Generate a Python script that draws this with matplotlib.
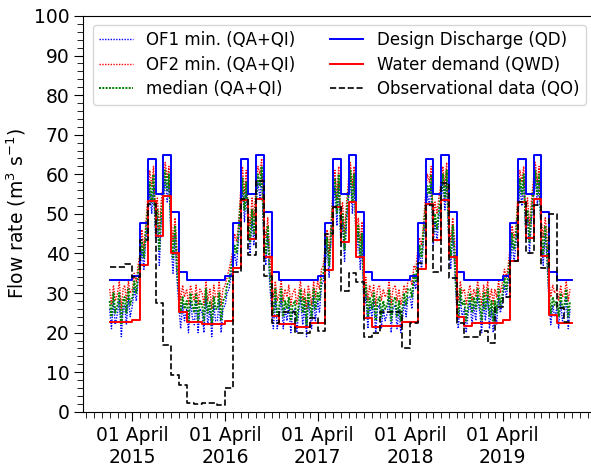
import datetime as dt

import matplotlib
matplotlib.use('Agg')
import matplotlib.pyplot as plt
import matplotlib.dates as mdates
from matplotlib.ticker import MultipleLocator, AutoMinorLocator

# monthly series, Jan 2015 .. Dec 2019 (one value per month)
qd = [33.3, 33.3, 33.3, 34.3, 47.7, 63.9, 55.0, 64.9, 50.6, 35.4, 33.3, 33.3,
      33.3, 33.3, 33.3, 34.3, 47.7, 63.9, 55.0, 64.9, 50.6, 35.4, 33.3, 33.3,
      33.3, 33.3, 33.3, 34.3, 47.7, 63.9, 55.0, 64.9, 50.6, 35.4, 33.3, 33.3,
      33.3, 33.3, 33.3, 34.3, 47.7, 63.9, 55.0, 64.9, 50.6, 35.4, 33.3, 33.3,
      33.3, 33.3, 33.3, 34.3, 47.7, 63.9, 55.0, 64.9, 50.6, 35.4, 33.3, 33.3]
qwd = [22.8, 22.8, 22.8, 23.3, 37.1, 53.3, 44.3, 54.4, 40.1, 25.3, 22.8, 22.8,
       22.2, 22.2, 22.2, 23.0, 36.4, 53.5, 43.7, 53.7, 39.2, 24.2, 22.2, 22.2,
       21.4, 21.4, 22.4, 22.4, 35.7, 51.8, 43.0, 53.1, 39.2, 23.7, 21.5, 21.7,
       21.7, 21.7, 22.8, 22.8, 36.0, 52.4, 43.4, 53.5, 39.2, 24.0, 21.7, 22.4,
       22.4, 22.4, 22.4, 23.2, 38.0, 53.1, 43.8, 53.7, 39.4, 24.5, 22.4, 22.4]
qo = [36.5, 36.5, 37.4, 34.0, 43.5, 52.5, 27.5, 17.0, 9.3, 6.8, 2.2, 2.0,
      2.2, 2.2, 1.8, 6.0, 35.4, 53.7, 39.5, 58.4, 34.2, 22.4, 25.3, 25.3,
      19.9, 19.9, 23.7, 20.3, 45.0, 51.8, 30.4, 35.0, 32.9, 19.0, 19.9, 25.3,
      25.3, 25.1, 16.1, 22.4, 37.5, 52.3, 35.4, 57.9, 33.8, 22.4, 19.0, 19.0,
      20.3, 17.3, 26.6, 29.1, 38.0, 53.1, 40.1, 52.3, 36.3, 50.0, 26.2, 22.6]

# simulated discharge, four readings per month
of2 = [31, 27, 32, 28, 30, 33, 26, 31, 32, 28, 33, 30, 31, 35, 33, 37,
       40, 46, 41, 47, 55, 61, 57, 62, 50, 54, 46, 53, 58, 63, 59, 62,
       48, 43, 49, 42, 33, 28, 32, 29, 31, 27, 32, 30, 28, 32, 27, 31,
       30, 27, 33, 28, 31, 26, 32, 29, 29, 33, 27, 31, 32, 34, 36, 38,
       41, 45, 43, 47, 56, 62, 55, 61, 51, 47, 54, 49, 57, 62, 60, 64,
       47, 44, 49, 41, 32, 29, 33, 28, 30, 33, 28, 31, 29, 32, 27, 30,
       31, 27, 30, 33, 28, 31, 26, 32, 30, 27, 33, 29, 33, 31, 36, 37,
       42, 46, 40, 47, 57, 61, 54, 62, 49, 53, 45, 52, 59, 63, 57, 62,
       46, 49, 43, 48, 31, 34, 28, 32, 29, 32, 27, 31, 32, 28, 31, 29,
       30, 33, 27, 31, 32, 28, 31, 27, 29, 32, 30, 33, 34, 32, 37, 36,
       41, 44, 42, 47, 55, 60, 58, 62, 48, 53, 50, 54, 58, 62, 57, 63,
       47, 43, 49, 44, 32, 28, 33, 30, 31, 27, 30, 32, 28, 31, 29, 33,
       30, 27, 32, 29, 33, 28, 31, 27, 31, 29, 33, 30, 33, 36, 34, 37,
       42, 47, 44, 46, 56, 61, 58, 62, 50, 54, 47, 53, 59, 63, 58, 62,
       48, 44, 49, 45, 33, 29, 32, 30, 31, 28, 32, 29, 30, 33, 28, 31]
med = [28, 24, 30, 25, 27, 30, 22, 28, 29, 25, 31, 27, 29, 33, 30, 35,
       38, 43, 39, 45, 52, 58, 53, 60, 47, 51, 41, 50, 55, 61, 56, 60,
       45, 39, 47, 37, 30, 25, 29, 26, 28, 23, 30, 27, 25, 30, 23, 28,
       27, 23, 31, 25, 28, 22, 29, 26, 26, 30, 23, 28, 29, 32, 33, 36,
       39, 42, 40, 45, 53, 59, 51, 58, 48, 43, 51, 45, 54, 60, 57, 62,
       44, 40, 47, 36, 29, 25, 31, 24, 27, 31, 24, 28, 26, 29, 23, 27,
       28, 23, 27, 31, 25, 29, 22, 30, 27, 24, 31, 26, 30, 28, 34, 35,
       39, 44, 37, 45, 54, 59, 50, 60, 46, 50, 41, 49, 56, 61, 53, 60,
       43, 47, 39, 45, 28, 32, 24, 29, 26, 30, 23, 28, 29, 24, 28, 26,
       27, 31, 23, 28, 29, 24, 28, 23, 26, 30, 27, 31, 31, 29, 35, 33,
       38, 42, 39, 45, 52, 57, 55, 60, 45, 50, 46, 51, 55, 60, 54, 61,
       44, 39, 47, 40, 29, 24, 31, 27, 28, 23, 27, 30, 25, 29, 26, 31,
       27, 23, 30, 26, 31, 24, 28, 23, 28, 25, 31, 27, 30, 34, 31, 35,
       39, 45, 41, 44, 53, 59, 55, 60, 47, 51, 43, 50, 56, 61, 55, 60,
       45, 40, 47, 41, 30, 25, 29, 27, 28, 24, 30, 26, 27, 31, 24, 28]
of1 = [26, 21, 28, 22, 25, 28, 19, 26, 27, 22, 29, 24, 27, 31, 28, 33,
       36, 41, 36, 43, 49, 56, 50, 57, 44, 49, 37, 48, 53, 59, 53, 58,
       42, 35, 45, 34, 27, 21, 27, 23, 26, 20, 28, 24, 22, 28, 20, 26,
       25, 20, 29, 22, 26, 19, 27, 23, 23, 28, 20, 26, 27, 30, 31, 34,
       37, 40, 37, 43, 50, 57, 48, 56, 46, 40, 49, 42, 52, 58, 54, 60,
       42, 37, 45, 33, 26, 21, 29, 21, 25, 29, 21, 26, 23, 27, 20, 25,
       26, 20, 25, 29, 22, 27, 19, 28, 25, 21, 29, 23, 28, 25, 32, 33,
       37, 42, 34, 43, 51, 57, 47, 58, 43, 48, 38, 47, 54, 59, 50, 58,
       40, 45, 36, 43, 25, 30, 21, 27, 24, 28, 20, 26, 27, 21, 26, 23,
       25, 29, 20, 26, 27, 21, 26, 20, 23, 28, 24, 29, 29, 26, 33, 31,
       36, 40, 36, 43, 49, 55, 52, 58, 42, 48, 43, 49, 53, 58, 51, 59,
       42, 36, 45, 37, 27, 21, 29, 24, 26, 20, 25, 28, 22, 27, 23, 29,
       25, 20, 28, 23, 29, 21, 26, 20, 26, 22, 29, 25, 28, 32, 29, 33,
       37, 43, 38, 42, 50, 57, 52, 58, 45, 49, 40, 48, 54, 59, 52, 58,
       43, 37, 45, 38, 28, 22, 27, 24, 26, 21, 28, 23, 25, 29, 21, 26]

month_starts = [dt.date(2015 + i // 12, i % 12 + 1, 1) for i in range(60)]
step_x = month_starts + [dt.date(2020, 1, 1)]
sim_x = [dt.date(m.year, m.month, d) for m in month_starts for d in (1, 8, 16, 23)]

plt.rcParams['font.family'] = 'DejaVu Sans'

fig = plt.figure(figsize=(5.91, 4.68), dpi=100)
ax = fig.add_axes([0.141, 0.120, 0.866, 0.846])

ax.plot(sim_x, of1, color='blue', ls=(0, (1, 1)), lw=1.0, label='OF1 min. (QA+QI)')
ax.plot(sim_x, of2, color='red', ls=(0, (1, 1)), lw=1.0, label='OF2 min. (QA+QI)')
ax.plot(sim_x, med, color='green', ls=(0, (1, 0.7)), lw=1.4, label='median (QA+QI)')
ax.step(step_x, qd + [qd[-1]], where='post', color='blue', lw=1.4,
        label='Design Discharge (QD)')
ax.step(step_x, qwd + [qwd[-1]], where='post', color='red', lw=1.4,
        label='Water demand (QWD)')
ax.step(step_x, qo + [qo[-1]], where='post', color='black', ls='--', lw=1.2,
        label='Observational data (QO)')

ax.set_xlim(dt.date(2014, 9, 19), dt.date(2020, 3, 31))
ax.set_ylim(0, 100)
ax.xaxis.set_major_locator(mdates.MonthLocator(bymonth=4, bymonthday=1))
ax.xaxis.set_minor_locator(mdates.MonthLocator())
ax.xaxis.set_major_formatter(mdates.DateFormatter('%d %B\n%Y'))
ax.yaxis.set_major_locator(MultipleLocator(10))
ax.yaxis.set_minor_locator(AutoMinorLocator(5))
ax.tick_params(which='major', length=6.5, labelsize=13.5)
ax.tick_params(which='minor', length=4)
for lab in ax.get_xticklabels():
    lab.set_horizontalalignment('center')
ax.set_ylabel('Flow rate (m$^3$ s$^{-1}$)', fontsize=13.5)

ax.legend(ncol=2, loc='upper left', bbox_to_anchor=(0.018, 0.978),
          borderaxespad=0, fontsize=12.0, handlelength=2,
          labelspacing=0.38, columnspacing=2.1)

fig.savefig('out.png', dpi=100)
